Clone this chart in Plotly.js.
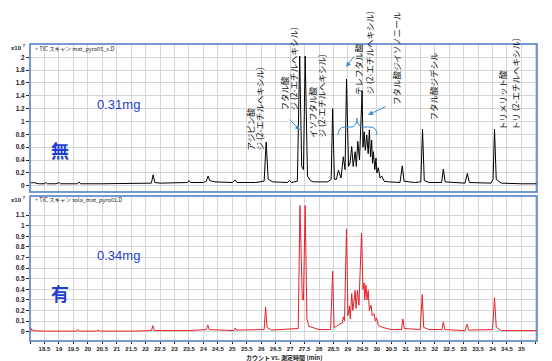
<!DOCTYPE html>
<html><head><meta charset="utf-8">
<script src="https://cdn.plot.ly/plotly-3.0.1.min.js"></script>
<style>html,body{margin:0;padding:0;background:#fff}#c{width:552px;height:361px}</style>
</head><body><div id="c"></div>
<script>
// ---- Data (counts x10^7) ----
const timeTop = [18.02,18.06,18.12,18.3,18.5,18.55,18.6,18.9,19.0,19.05,19.5,19.65,19.7,19.75,20.5,21.0,21.5,22.0,22.2,22.26,22.32,22.5,23.0,23.45,23.5,23.55,24.0,24.1,24.16,24.22,24.4,25.0,25.1,25.16,25.8,26.1,26.17,26.24,26.4,26.9,26.98,27.05,27.25,27.33,27.4,27.46,27.52,27.6,27.7,27.8,28.3,28.42,28.47,28.53,28.6,28.67,28.76,28.84,28.9,28.95,29.02,29.07,29.13,29.18,29.25,29.29,29.34,29.4,29.49,29.52,29.56,29.6,29.65,29.7,29.74,29.78,29.82,29.85,29.88,29.93,29.97,30.0,30.05,30.11,30.17,30.25,30.4,30.8,30.88,30.94,31.3,31.52,31.58,31.64,31.8,32.24,32.3,32.36,33.05,33.13,33.2,33.95,34.02,34.07,34.13,34.3,35.0,35.54];
const sigTop  = [0.06,0.04,0.05,0.03,0.03,0.05,0.03,0.03,0.05,0.03,0.03,0.03,0.06,0.03,0.03,0.03,0.03,0.03,0.04,0.17,0.05,0.04,0.04,0.05,0.08,0.05,0.05,0.07,0.15,0.08,0.06,0.05,0.09,0.05,0.05,0.07,0.68,0.1,0.06,0.05,0.08,0.05,0.07,2.02,0.3,0.25,2.02,0.15,0.08,0.06,0.06,0.1,1.2,0.1,0.1,0.24,0.12,0.45,0.25,1.66,0.3,0.35,0.61,0.3,0.53,0.3,0.69,0.4,1.48,0.6,0.84,0.55,0.79,0.5,0.87,0.45,0.71,0.35,0.53,0.25,0.43,0.2,0.28,0.12,0.15,0.07,0.06,0.05,0.31,0.07,0.05,0.06,0.88,0.08,0.05,0.05,0.26,0.06,0.04,0.19,0.05,0.04,0.1,0.88,0.1,0.04,0.03,0.03];

const timeBot = [18.02,18.05,18.1,18.3,18.5,19.6,19.65,19.7,20.3,20.35,20.4,21.5,22.2,22.25,22.3,23.5,23.8,24.1,24.15,24.2,25.05,25.1,25.15,26.1,26.15,26.2,26.35,27.28,27.34,27.42,27.46,27.52,27.58,27.65,28.0,28.4,28.47,28.52,28.6,28.7,28.8,28.84,28.88,28.95,29.0,29.05,29.08,29.13,29.17,29.25,29.28,29.33,29.38,29.47,29.52,29.56,29.58,29.62,29.66,29.7,29.74,29.8,29.84,29.9,29.95,29.99,30.05,30.2,30.5,30.85,30.9,30.95,31.5,31.57,31.62,31.8,32.25,32.3,32.35,33.05,33.12,33.18,34.0,34.07,34.13,34.3,35.54];
const sigBot  = [0.0,0.03,0.01,0.005,0.005,0.005,0.02,0.005,0.005,0.015,0.005,0.005,0.01,0.057,0.01,0.01,0.015,0.02,0.063,0.02,0.01,0.035,0.015,0.02,0.23,0.04,0.015,0.03,1.19,0.3,0.3,1.19,0.12,0.05,0.02,0.02,0.57,0.04,0.05,0.07,0.08,0.14,0.1,0.97,0.15,0.24,0.12,0.36,0.2,0.39,0.22,0.39,0.25,0.93,0.4,0.46,0.3,0.44,0.3,0.39,0.2,0.25,0.15,0.17,0.1,0.13,0.06,0.04,0.02,0.02,0.12,0.03,0.02,0.35,0.04,0.02,0.02,0.09,0.02,0.01,0.07,0.015,0.02,0.32,0.04,0.01,0.01];

const xTickVals = [18,18.5,19,19.5,20,20.5,21,21.5,22,22.5,23,23.5,24,24.5,25,25.5,26,26.5,27,27.5,28,28.5,29,29.5,30,30.5,31,31.5,32,32.5,33,33.5,34,34.5,35,35.5];
const xTickText = xTickVals.map(v => (v === 18 || v === 35.5) ? '' : String(v));
const yTopTicks = [0,0.2,0.4,0.6,0.8,1,1.2,1.4,1.6,1.8,2];
const yBotTicks = [0,0.1,0.2,0.3,0.4,0.5,0.6,0.7,0.8,0.9,1,1.1];

const labels = [
  {t:'アジピン酸', x:249, y:153}, {t:'ジ (2-エチルヘキシル)', x:258, y:153},
  {t:'フタル酸', x:283, y:113}, {t:'ジ (2-エチルヘキシル)', x:292, y:113},
  {t:'イソフタル酸', x:312, y:140}, {t:'ジ (2-エチルヘキシル)', x:320, y:140},
  {t:'テレフタル酸', x:358, y:97}, {t:'ジ (2-エチルヘキシル)', x:368, y:97},
  {t:'フタル酸ジイソノニール', x:396, y:107},
  {t:'フタル酸ジデシル', x:432, y:123},
  {t:'トリメリット酸', x:502, y:132}, {t:'トリ (2-エチルヘキシル)', x:515, y:132}
];

// ---- layout helpers (pixel -> paper) ----
const L=30, R=537, T=44, B=341;
const px = x => (x-L)/(R-L);
const py = y => (B-y)/(B-T);
const topDom = [py(192), 1], botDom = [0, py(196)];
const BLUE = '#4a78c2', ARROW = '#3b8fd6', TXTBLUE = '#1f3fd2';
const tickFont = {family:'Liberation Sans, Arial', size:6.5, color:'#222', weight:'bold'};
const xTickFont = {family:'Liberation Sans, Arial', size:6, color:'#222', weight:'bold'};
const jp = 'Noto Sans CJK JP';

const traces = [
  {x:timeTop, y:sigTop, xaxis:'x2', yaxis:'y2', mode:'lines', line:{color:'#000', width:1}, hoverinfo:'skip'},
  {x:timeBot, y:sigBot, xaxis:'x', yaxis:'y', mode:'lines', line:{color:'#e8202a', width:1}, hoverinfo:'skip'}
];

const ann = [];
const txt = (x, y, text, font, xa, ya) => ann.push({xref:'paper', yref:'paper', x:px(x), y:py(y), text:text,
  showarrow:false, xanchor:xa||'center', yanchor:ya||'middle', font:font});
labels.forEach(l => ann.push({xref:'paper', yref:'paper', x:px(l.x), y:py(l.y), text:l.t, textangle:-90,
  showarrow:false, xanchor:'center', yanchor:'bottom', font:{family:jp, size:8.5, color:'#111'}}));
[[288,118,300,130],[355,55,346,67],[387,106,368,115]].forEach(a => ann.push({
  xref:'paper', yref:'paper', x:px(a[2]), y:py(a[3]), ax:a[0]-a[2], ay:a[1]-a[3], text:'', showarrow:true,
  arrowhead:2, arrowsize:1, arrowwidth:1, arrowcolor:ARROW}));
txt(118, 105, '0.31mg', {family:'Liberation Sans, Arial', size:13, color:TXTBLUE});
txt(118, 255, '0.34mg', {family:'Liberation Sans, Arial', size:13, color:TXTBLUE});
txt(60, 150, '無', {family:jp, size:18, color:TXTBLUE, weight:'bold'});
txt(60, 293, '有', {family:jp, size:18, color:TXTBLUE, weight:'bold'});
txt(33, 48.5, '+ TIC スキャン mat_pyro05_x.D', {family:jp, size:5.5, color:'#222'}, 'left');
txt(33, 199.5, '+ TIC スキャン sola_mat_pyro01.D', {family:jp, size:5.5, color:'#222'}, 'left');
txt(28, 47, 'x10 <sup>7</sup>', {family:'Liberation Sans, Arial', size:6, color:'#222', weight:'bold'}, 'right');
txt(28, 199, 'x10 <sup>7</sup>', {family:'Liberation Sans, Arial', size:6, color:'#222', weight:'bold'}, 'right');
txt(284, 357, 'カウント vs. 測定時間 (min)', {family:jp, size:6, color:'#222', weight:'bold'});

// brace path (pixel coordinates converted to paper)
const bracePts = [['M',338,135],['Q',338,127,345,127],['L',351,127],['Q',357,127,357,118],['Q',357,127,363,127],['L',370,127],['Q',377,127,377,135]];
const bracePath = bracePts.map(s => {
  const out=[s[0]]; for(let i=1;i<s.length;i+=2){ out.push(px(s[i]).toFixed(4)+','+py(s[i+1]).toFixed(4)); } return out.join(' ');
}).join(' ');

const shapes = [
  {type:'rect', xref:'paper', yref:'paper', x0:0, x1:1, y0:topDom[0], y1:topDom[1], line:{color:BLUE, width:1.5}},
  {type:'rect', xref:'paper', yref:'paper', x0:0, x1:1, y0:botDom[0], y1:botDom[1], line:{color:BLUE, width:1.5}},
  {type:'path', xref:'paper', yref:'paper', path:bracePath, line:{color:ARROW, width:1}}
];

const xBase = {range:[18.0,35.54], tickmode:'array', tickvals:xTickVals, showgrid:true, gridcolor:'#d6d6d6', gridwidth:1, zeroline:false};
const layout = {
  width:552, height:361, margin:{l:30, r:15, t:44, b:20}, paper_bgcolor:'#fff', plot_bgcolor:'#fff', showlegend:false,
  xaxis: Object.assign({}, xBase, {anchor:'y', ticktext:xTickText, ticks:'outside', ticklen:2, tickcolor:'#222', tickfont:xTickFont}),
  xaxis2: Object.assign({}, xBase, {anchor:'y2', matches:'x', showticklabels:false, ticks:''}),
  yaxis: {domain:botDom, range:[-0.088,1.28], tickmode:'array', tickvals:yBotTicks, ticktext:yBotTicks.map(String), ticks:'outside', ticklen:3, tickcolor:'#222', tickfont:tickFont, showgrid:true, gridcolor:'#d6d6d6', zeroline:false},
  yaxis2: {domain:topDom, anchor:'x2', range:[-0.098,2.207], tickmode:'array', tickvals:yTopTicks, ticktext:yTopTicks.map(String), ticks:'outside', ticklen:3, tickcolor:'#222', tickfont:tickFont, showgrid:true, gridcolor:'#d6d6d6', zeroline:false},
  annotations: ann, shapes: shapes
};
Plotly.newPlot('c', traces, layout, {staticPlot:true, displayModeBar:false});
</script></body></html>
